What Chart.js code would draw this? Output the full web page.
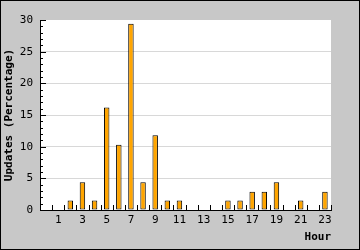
<!DOCTYPE html>
<html>
<head>
<meta charset="utf-8">
<script src="https://cdn.jsdelivr.net/npm/chart.js@4.4.0/dist/chart.umd.min.js"></script>
<style>
  html, body { margin: 0; padding: 0; background: #fff; }
  #wrap { width: 360px; height: 250px; }
</style>
</head>
<body>
<div id="wrap"><canvas id="chart" width="360" height="250"></canvas></div>
<script>
const hours = ['0','1','2','3','4','5','6','7','8','9','10','11','12','13','14','15','16','17','18','19','20','21','22','23'];
const updates = [0, 0, 1.5, 4.4, 1.5, 16.2, 10.3, 29.4, 4.4, 11.8, 1.5, 1.5, 0, 0, 0, 1.5, 1.5, 2.9, 2.9, 4.4, 0, 1.5, 0, 2.9];
const yMax = 30;
const yStep = 5;

const mono = 'DejaVu Sans Mono, monospace';

// gray frame, white plot area, black outline
const frame = {
  id: 'frame',
  beforeDraw(chart) {
    const { ctx, chartArea: a, width, height } = chart;
    ctx.save();
    ctx.fillStyle = '#c8c8c8';
    ctx.fillRect(0, 0, width, height);
    ctx.fillStyle = '#fff';
    ctx.fillRect(a.left, a.top, a.right - a.left, a.bottom - a.top);
    ctx.strokeStyle = '#000';
    ctx.lineWidth = 1;
    ctx.strokeRect(0.5, 0.5, width - 1, height - 1);
    ctx.restore();
  },
  // tick marks inside the plot
  afterDatasetsDraw(chart) {
    const { ctx, chartArea: a, scales: { x, y } } = chart;
    ctx.save();
    ctx.strokeStyle = '#000';
    ctx.lineWidth = 1;
    ctx.beginPath();
    for (let v = 0; v <= yMax; v++) {
      const py = Math.round(y.getPixelForValue(v)) + 0.5;
      ctx.moveTo(a.left, py);
      ctx.lineTo(a.left + (v % yStep === 0 ? 6 : 3), py);
    }
    for (let i = 1; i <= hours.length; i++) {
      const px = Math.round(x.getPixelForValue(i - 0.5)) + 0.5;
      ctx.moveTo(px, a.bottom);
      ctx.lineTo(px, a.bottom - 5);
    }
    ctx.stroke();
    ctx.restore();
  }
};

new Chart(document.getElementById('chart'), {
  type: 'bar',
  data: {
    labels: hours,
    datasets: [{
      data: updates,
      backgroundColor: '#ffa500',
      borderColor: '#000',
      borderWidth: 1,
      borderSkipped: false,
      barPercentage: 0.45,
      categoryPercentage: 1
    }]
  },
  options: {
    responsive: false,
    animation: false,
    layout: { padding: { left: 0, right: 29, top: 20, bottom: 0 } },
    plugins: { legend: { display: false }, tooltip: { enabled: false } },
    scales: {
      x: {
        afterFit: s => { s.height = 40; },
        grid: { display: false, drawTicks: false },
        border: { display: true, color: '#000', width: 1 },
        ticks: {
          autoSkip: false,
          maxRotation: 0,
          padding: 4,
          color: '#000',
          font: { family: mono, size: 11 },
          callback: (v, i) => (i % 2 === 1 ? hours[i] : '')
        },
        title: {
          display: true,
          text: 'Hour',
          align: 'end',
          color: '#000',
          font: { family: mono, size: 11, weight: 'bold' },
          padding: { top: 0, bottom: 6 }
        }
      },
      y: {
        min: 0,
        max: yMax,
        afterFit: s => { s.width = 40; },
        grid: {
          drawTicks: false,
          color: c => (c.tick.value > 0 && c.tick.value < yMax ? '#d8d8d8' : 'rgba(0,0,0,0)')
        },
        border: { display: true, color: '#000', width: 1 },
        ticks: {
          stepSize: yStep,
          padding: 7,
          color: '#000',
          font: { family: mono, size: 11 }
        },
        title: {
          display: true,
          text: 'Updates (Percentage)',
          color: '#000',
          font: { family: mono, size: 11, weight: 'bold' },
          padding: { top: 3, bottom: 0 }
        }
      }
    }
  },
  plugins: [frame]
});
</script>
</body>
</html>
